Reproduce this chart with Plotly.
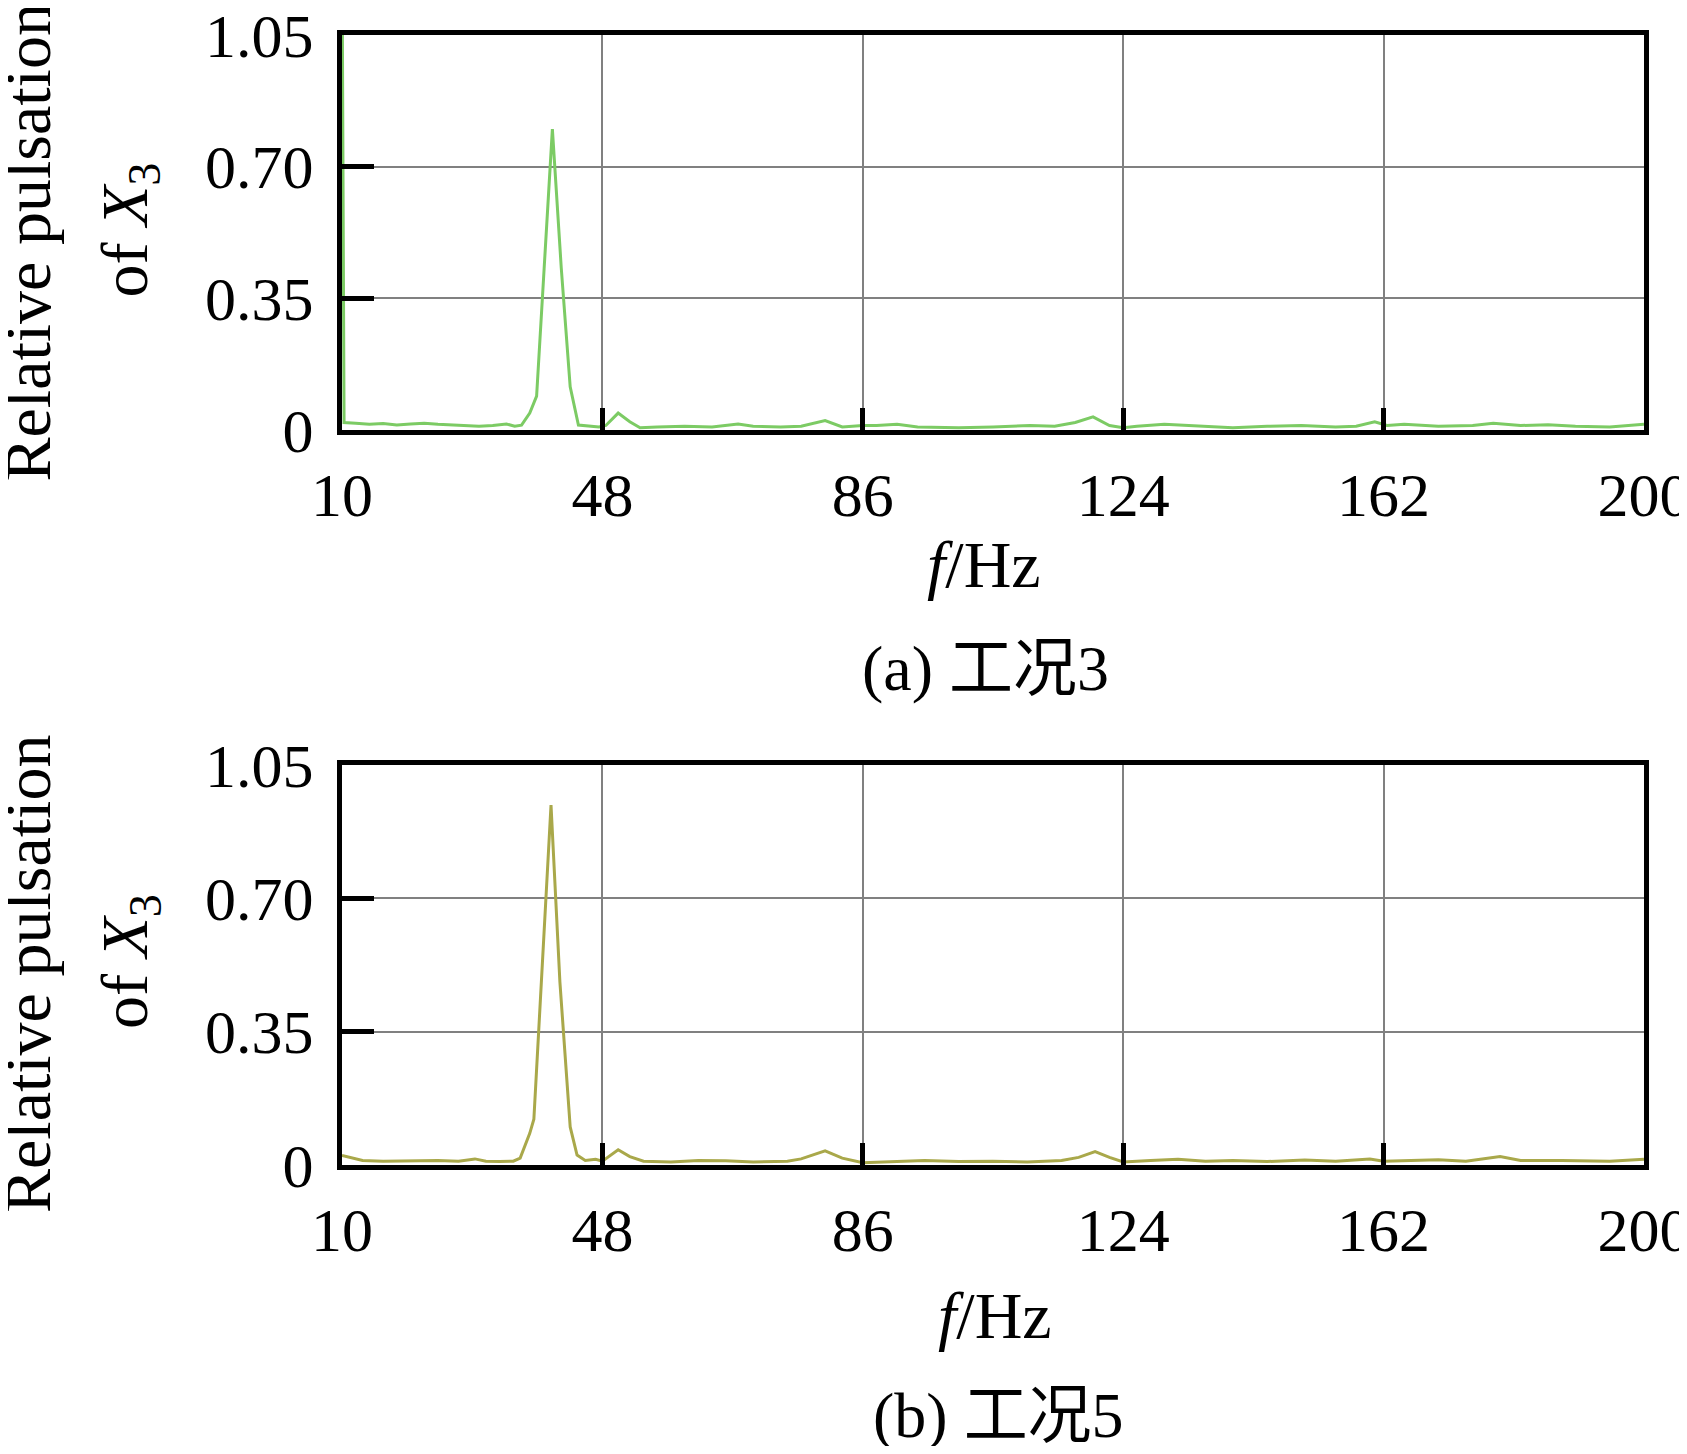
import plotly.graph_objects as go

# ---------------- data ----------------
freq_a = [10.0, 10.3, 12, 14, 16, 18, 20, 22, 24, 26, 28, 30, 32, 34, 35.2, 36.2, 37.4, 38.4,
          39.5, 40.7, 42.0, 43.3, 44.5, 46, 47.5, 48.5, 50.3, 52, 53.5, 56, 60, 64, 67.8, 70,
          74, 77, 80.5, 83, 86, 88, 91, 94, 100, 105, 110.4, 114, 117, 119.6, 122, 124, 126,
          130, 135, 140, 145, 150, 155, 158, 160.7, 162.5, 165, 170, 175, 178, 182, 186, 190,
          195, 200]
pulse_a = [1.30, 0.020, 0.018, 0.015, 0.017, 0.013, 0.016, 0.018, 0.015, 0.013, 0.012, 0.010,
           0.012, 0.016, 0.010, 0.013, 0.045, 0.090, 0.430, 0.800, 0.430, 0.115, 0.013, 0.010,
           0.008, 0.012, 0.045, 0.022, 0.006, 0.008, 0.010, 0.008, 0.016, 0.010, 0.008, 0.010,
           0.025, 0.008, 0.012, 0.012, 0.015, 0.008, 0.006, 0.008, 0.012, 0.010, 0.020, 0.035,
           0.012, 0.006, 0.010, 0.015, 0.010, 0.006, 0.010, 0.012, 0.008, 0.010, 0.022, 0.012,
           0.015, 0.010, 0.012, 0.018, 0.012, 0.014, 0.010, 0.008, 0.015]

freq_b = [10, 11, 13, 16, 20, 24, 27, 29.4, 31, 33, 35, 36.0, 37.4, 38.0, 40.5, 41.8, 43.3,
          44.3, 45.5, 47, 48, 50.3, 52, 54, 58, 62, 66, 70, 75, 77, 80.5, 83, 86, 90, 95, 100,
          105, 110, 115, 117.5, 119.9, 122, 124, 128, 132, 136, 140, 145, 150.5, 155, 160, 162,
          166, 170, 174, 179, 182, 188, 195, 200]
pulse_b = [0.025, 0.020, 0.012, 0.010, 0.011, 0.012, 0.010, 0.016, 0.010, 0.009, 0.010, 0.018,
           0.083, 0.120, 0.945, 0.480, 0.100, 0.026, 0.012, 0.015, 0.010, 0.040, 0.022, 0.010,
           0.008, 0.012, 0.011, 0.008, 0.010, 0.016, 0.037, 0.018, 0.006, 0.008, 0.012, 0.009,
           0.010, 0.008, 0.012, 0.020, 0.035, 0.020, 0.008, 0.012, 0.015, 0.010, 0.012, 0.009,
           0.013, 0.010, 0.016, 0.010, 0.012, 0.014, 0.010, 0.022, 0.012, 0.012, 0.010, 0.015]

x_tickvals = [10, 48, 86, 124, 162, 200]
x_ticktext = ["10", "48", "86", "124", "162", "200"]
y_tickvals = [0, 0.35, 0.70, 1.05]
y_ticktext = ["0", "0.35", "0.70", "1.05"]

y_title = ["Relative pulsation", "of <i>X</i><sub>3</sub>"]
x_title = "<i>f</i>/Hz"
captions = ["(a) 工况3", "(b) 工况5"]

# ---------------- figure ----------------
OFF = 8                      # default page (body) margin of the browser
W, H = 1687 - OFF, 1454 - 2 * OFF
# target page-pixel geometry
PL, PR = 342, 1644
TOP_A, BOT_A = 35, 430
TOP_B, BOT_B = 765, 1165
L = PL - OFF
R = W - (PR - OFF)
T = TOP_A - OFF
B = H - (BOT_B - OFF)
PW = W - L - R
PH = H - T - B
FONT = "Liberation Serif, Times New Roman, Noto Sans CJK SC, serif"


def py(pix):  # page pixel y -> paper y
    return (BOT_B - pix) / PH


def px(pix):  # page pixel x -> paper x
    return (pix - PL) / PW


fig = go.Figure()
fig.add_trace(go.Scatter(x=freq_a, y=pulse_a, mode="lines", xaxis="x", yaxis="y",
                         line=dict(color="#7ccb64", width=3), showlegend=False))
fig.add_trace(go.Scatter(x=freq_b, y=pulse_b, mode="lines", xaxis="x2", yaxis="y2",
                         line=dict(color="#a9a84a", width=3), showlegend=False))

xa = dict(range=[10, 200], tickmode="array", tickvals=x_tickvals, ticktext=x_ticktext,
          showgrid=True, gridcolor="#808080", gridwidth=2, zeroline=False,
          showline=True, linecolor="black", linewidth=5, mirror=True,
          ticks="inside", ticklen=22, tickwidth=5, tickcolor="black", automargin=False,
          ticklabeloverflow="allow",
          tickfont=dict(family=FONT, size=62, color="black"), ticklabelstandoff=7)
ya = dict(range=[0, 1.05], tickmode="array", tickvals=y_tickvals, ticktext=y_ticktext,
          showgrid=True, gridcolor="#808080", gridwidth=2, zeroline=False,
          showline=True, linecolor="black", linewidth=5, mirror=True,
          ticks="inside", ticklen=32, tickwidth=5, tickcolor="black", automargin=False,
          ticklabeloverflow="allow",
          tickfont=dict(family=FONT, size=62, color="black"), ticklabelstandoff=11)

fig.update_layout(
    width=W, height=H, margin=dict(l=L, r=R, t=T, b=B, pad=0, autoexpand=False),
    paper_bgcolor="white", plot_bgcolor="white",
    xaxis=dict(xa, domain=[0, 1], anchor="y"),
    yaxis=dict(ya, domain=[py(BOT_A), 1], anchor="x"),
    xaxis2=dict(xa, domain=[0, 1], anchor="y2"),
    yaxis2=dict(ya, domain=[0, py(TOP_B)], anchor="x2"),
)

anns = []
for cy in [(TOP_A + BOT_A) / 2 + 5, (TOP_B + BOT_B) / 2 + 4]:
    anns.append(dict(text=y_title[0], x=px(27), y=py(cy + 5), xref="paper", yref="paper",
                     xanchor="center", yanchor="middle", textangle=-90, showarrow=False,
                     font=dict(family=FONT, size=66, color="black")))
    anns.append(dict(text=y_title[1], x=px(129), y=py(cy - 8), xref="paper", yref="paper",
                     xanchor="center", yanchor="middle", textangle=-90, showarrow=False,
                     font=dict(family=FONT, size=66, color="black")))
for (cx, cy) in [(984, 564), (995, 1315)]:
    anns.append(dict(text=x_title, x=px(cx), y=py(cy), xref="paper", yref="paper",
                     xanchor="center", yanchor="middle", showarrow=False,
                     font=dict(family=FONT, size=66, color="black")))
for cap, (cx, cy) in zip(captions, [(985, 668), (998, 1416)]):
    anns.append(dict(text=cap, x=px(cx), y=py(cy), xref="paper", yref="paper",
                     xanchor="center", yanchor="middle", showarrow=False,
                     font=dict(family=FONT, size=64, color="black")))
fig.update_layout(annotations=anns)

fig.write_html("out.html")
